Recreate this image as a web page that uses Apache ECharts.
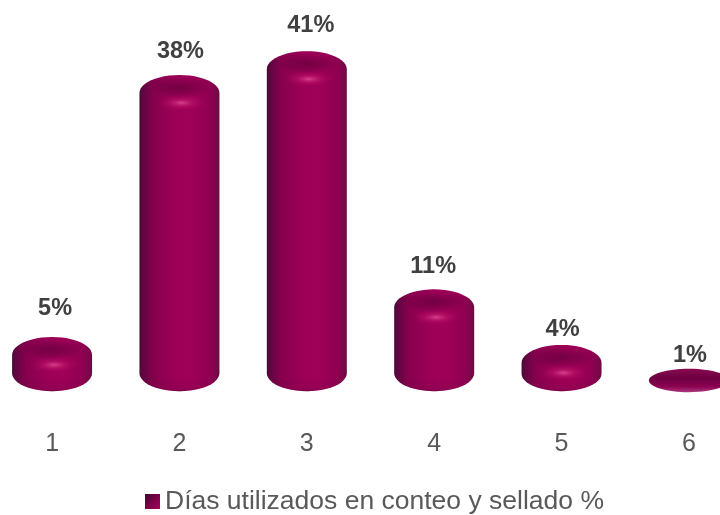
<!DOCTYPE html>
<html><head><meta charset="utf-8">
<style>html,body{margin:0;padding:0;background:#fff}#c{width:720px;height:515px}</style>
<script src="https://cdn.jsdelivr.net/npm/echarts@6/dist/echarts.min.js"></script>
</head><body><div id="c"></div>
<script>
var categories = ['1','2','3','4','5','6'];
var values = [5,38,41,11,4,1];
var seriesName = 'Días utilizados en conteo y sellado %';

var labelLift = [28,23,26,23,15,13];
var labelShift = [3,1,4,-1,1,1];
var BAR_W = 80, BASE_DROP = 14.5;
var lg = function(x,y,x2,y2,st){return {type:'linear',x:x,y:y,x2:x2,y2:y2,colorStops:st.map(function(s){return {offset:s[0],color:s[1]};})};};
var rg = function(st){return {type:'radial',x:.5,y:.5,r:.5,colorStops:st.map(function(s){return {offset:s[0],color:s[1]};})};};
var bodyFill = lg(0,0,1,0,[[0,'#4a0a36'],[.04,'#5e0640'],[.18,'#88004e'],[.42,'#9a0056'],[.62,'#a00058'],[.88,'#900052'],[.97,'#780848'],[1,'#660c42']]);

function outline(cx,top,bot,rx,ryT,ryB){
  var pts=[],i,a,n=24;
  for(i=0;i<=n;i++){a=Math.PI+Math.PI*i/n;pts.push([cx+rx*Math.cos(a),top+ryT+ryT*Math.sin(a)]);}
  for(i=0;i<=n;i++){a=Math.PI*i/n;pts.push([cx+rx*Math.cos(a),bot-ryB+ryB*Math.sin(a)]);}
  return pts;
}
function glow(cx,cy,rx,ry,stops){
  return {type:'circle',x:cx,y:cy,scaleY:ry/rx,shape:{cx:0,cy:0,r:rx},style:{fill:rg(stops)}};
}
function renderItem(params,api){
  var i=api.value(0), v=api.value(1);
  var p=api.coord([i,v]), z=api.coord([i,0]);
  var cx=p[0], top=p[1], bot=z[1]+BASE_DROP, rx=BAR_W/2, h=bot-top;
  var label={type:'text',style:{text:Math.round(v)+'%',x:cx+labelShift[i],y:top-labelLift[i],align:'center',verticalAlign:'middle',
    font:'bold 23.5px "Liberation Sans"',fill:'#404040'}};
  if(h<30){
    return {type:'group',children:[
      {type:'ellipse',shape:{cx:cx,cy:top+h/2+.5,rx:rx,ry:h/2+.5},style:{fill:lg(0,0,0,1,[[0,'#8a0a52'],[.4,'#6c0040'],[.75,'#8c0050'],[1,'#a8387c']])}},
      label]};
  }
  var ryT=Math.min(18,h*.4), ryB=Math.min(18,h*.38);
  return {type:'group',children:[
    {type:'polygon',shape:{points:outline(cx,top,bot,rx,ryT,ryB)},style:{fill:bodyFill}},
    glow(cx,top+ryT*.7,rx*.85,ryT*.62,[[0,'rgba(85,0,50,0.6)'],[.55,'rgba(90,0,55,0.32)'],[1,'rgba(110,0,65,0)']]),
    glow(cx+2,top+ryT*1.55,rx*.65,ryT*.46,[[0,'rgba(230,90,155,0.75)'],[.45,'rgba(205,30,115,0.36)'],[1,'rgba(170,0,90,0)']]),
    {type:'polygon',shape:{points:outline(cx,bot-ryB*2,bot,rx,ryB,ryB)},style:{fill:lg(0,0,0,1,[[.55,'rgba(90,0,50,0)'],[.92,'rgba(90,0,55,0.12)'],[1,'rgba(60,0,40,0.4)']])}},
    label]};
}
var chart=echarts.init(document.getElementById('c'),null,{renderer:'canvas'});
chart.setOption({
  animation:false,
  grid:{left:-11.6,right:-32.6,top:19.4,bottom:138.3,containLabel:false,outerBoundsMode:'none'},
  xAxis:{type:'category',data:categories,axisLine:{show:false},axisTick:{show:false},splitLine:{show:false},
    axisLabel:{margin:55,interval:0,color:'#595959',fontFamily:'Liberation Sans',fontSize:25}},
  yAxis:{type:'value',min:0,max:45,show:false},
  legend:{show:true,left:145,top:488,itemWidth:15,itemHeight:15,itemGap:5,icon:'rect',
    textStyle:{color:'#595959',fontFamily:'Liberation Sans',fontSize:26.5,padding:[2,0,0,0]},padding:0,data:[seriesName]},
  series:[{type:'custom',name:seriesName,coordinateSystem:'cartesian2d',clip:false,
    itemStyle:{color:lg(0,0,1,1,[[0,'#3c0a2e'],[.5,'#7a0048'],[1,'#a8005e']])},
    encode:{x:0,y:1},renderItem:renderItem,
    data:values.map(function(v,i){return [i,v];})}]
});
</script></body></html>
